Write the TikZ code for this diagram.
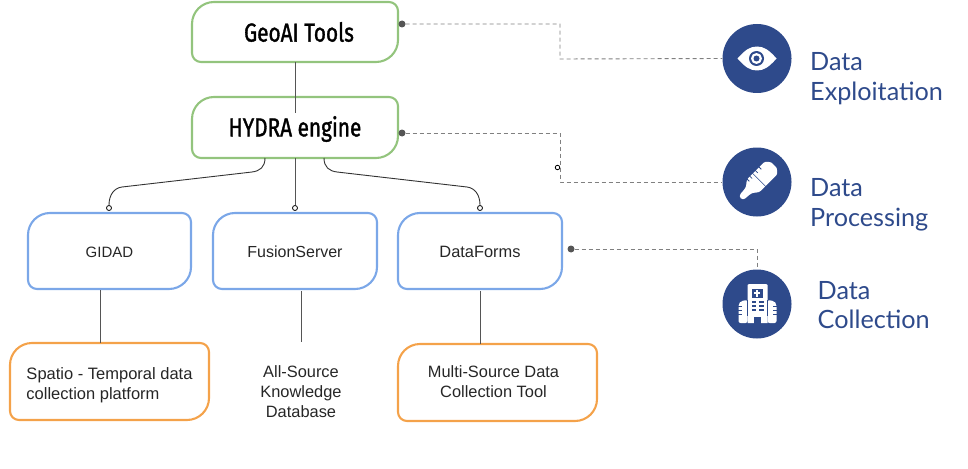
\documentclass[tikz,border=0pt]{standalone}
\usepackage{fontspec}
\setmainfont{Liberation Sans}
\newfontfamily\titlefont[FakeStretch=0.80,FakeBold=1.3]{Fira Sans}
\newfontfamily\sidefont{Lato}
\usetikzlibrary{calc}
\definecolor{navy}{HTML}{2E4A8B}
\definecolor{leafgreen}{HTML}{93C47D}
\definecolor{leafblue}{HTML}{7BA7E8}
\definecolor{leaforange}{HTML}{F4A24A}
\definecolor{linkgrey}{HTML}{555555}
\tikzset{
  x=1pt,y=-1pt,
  boxtext/.style={inner sep=0pt,align=center,font=\fontsize{16.4}{20}\selectfont,text=black!85},
  titletext/.style={inner sep=0pt,align=center,font=\titlefont\fontsize{26}{30}\selectfont,text=black},
  sidelabel/.style={inner sep=0pt,anchor=west,align=left,font=\sidefont\fontsize{25.2}{30}\selectfont,text=navy},
  link/.style={draw=linkgrey,line width=1pt},
  thinlink/.style={draw=black!80,line width=0.9pt},
  dashlink/.style={draw=linkgrey!75,line width=0.9pt,dash pattern=on 4pt off 3pt},
  opendot/.style={circle,draw=black,fill=white,line width=0.8pt,inner sep=0pt,minimum size=5pt},
  fulldot/.style={circle,fill=linkgrey,inner sep=0pt,minimum size=7pt},
  iconcircle/.style={circle,fill=navy,inner sep=0pt,minimum size=69pt},
}
% name, x1, y1, x2, y2, colour, text style, text
\newcommand{\leafbox}[8]{%
  \draw[#6,line width=2.1pt]
    (#2+22,#3) -- (#4-9,#3) arc[start angle=90,end angle=0,radius=9pt]
    -- (#4,#5-22) arc[start angle=0,end angle=-90,radius=22pt]
    -- (#2+9,#5) arc[start angle=-90,end angle=-180,radius=9pt]
    -- (#2,#3+22) arc[start angle=180,end angle=90,radius=22pt] -- cycle;
  \node[#7] (#1) at ({(#2+#4)/2},{(#3+#5)/2}) {#8};
}
\begin{document}
\begin{tikzpicture}
\useasboundingbox (0,0) rectangle (968,468);
\leafbox{geo}{192}{2}{398}{62}{leafgreen}{titletext,xshift=4pt}{GeoAI Tools}
\leafbox{hydra}{192}{97}{398}{158}{leafgreen}{titletext,yshift=-1.5pt}{HYDRA engine}
\leafbox{gidad}{28}{213}{191}{289}{leafblue}{boxtext,font=\fontsize{15}{20}\selectfont,yshift=-1pt}{GIDAD}
\leafbox{fusion}{213}{213}{377}{289}{leafblue}{boxtext,font=\fontsize{16}{20}\selectfont,yshift=-1pt}{FusionServer}
\leafbox{forms}{398}{213}{562}{289}{leafblue}{boxtext,yshift=-1pt}{DataForms}
\leafbox{spatio}{10}{343}{209}{420}{leaforange}{boxtext,align=left,font=\fontsize{16.5}{20}\selectfont,yshift=-3.5pt}{Spatio - Temporal data\\collection platform}
\leafbox{multi}{398}{344}{597}{421}{leaforange}{boxtext,xshift=-4pt,yshift=0.5pt}{Multi-Source Data\\Collection Tool}
\node[boxtext] (allsource) at (301,391.5) {All-Source\\Knowledge\\Database};

% solid connectors
\coordinate (geoEnd) at (295,113);
\draw[link] (295,62) -- (geoEnd);
\node[opendot] (dotF) at (295,208) {};
\node[opendot] (dotG) at (109,208) {};
\node[opendot] (dotD) at (480,208) {};
\coordinate (hydraL) at (265,158);
\coordinate (hydraM) at (295,158);
\coordinate (hydraR) at (324,158);
\draw[link] (hydraM) -- (dotF);
\draw[thinlink] (hydraL) .. controls (265,167) and (260,171) .. (252,172)
  -- (122,187) .. controls (114,188) and (109,195) .. (dotG.north);
\draw[thinlink] (hydraR) .. controls (324,167) and (329,171) .. (337,172)
  -- (467,187) .. controls (475,188) and (480,195) .. (dotD.north);
\coordinate (gidadS) at (100,290);
\coordinate (spatioN) at (100,343);
\coordinate (fusionS) at (301,291);
\coordinate (allsourceN) at (301,342);
\coordinate (formsS) at (480,291);
\coordinate (multiN) at (480,344);
\draw[link] (gidadS) -- (spatioN);
\draw[link] (fusionS) -- (allsourceN);
\draw[link] (formsS) -- (multiN);

% icon circles
\node[iconcircle] (eye) at (757,58.5) {};
\node[iconcircle] (thermo) at (757,182) {};
\node[iconcircle] (hospital) at (757,304) {};

% dashed connectors
\node[fulldot] (dot1) at (402,24) {};
\node[fulldot] (dot2) at (402,133) {};
\node[fulldot] (dot3) at (571,249) {};
\node[opendot,minimum size=4.5pt] (dot4) at (557.5,167.5) {};
\draw[dashlink] (dot1) -- (560,24) -- (560,59) -- (eye.west);
\draw[dashlink] (dot2) -- (560,133) -- (560,182) -- (thermo.west);
\draw[dashlink] (dot3) -- (757,249) -- (hospital.north);

% labels
\node[sidelabel] (l1) at (810,79) {Data\\Exploitation};
\node[sidelabel] (l2) at (810,204.5) {Data\\Processing};
\node[sidelabel,font=\sidefont\fontsize{25.2}{29}\selectfont] (l3) at (817.5,305) {Data\\Collection};

% eye icon
\fill[white] (737.5,58.5) .. controls (745,50) and (750,46.5) .. (757,46.5)
  .. controls (764,46.5) and (769,50) .. (776.5,58.5)
  .. controls (769,67) and (764,70.5) .. (757,70.5)
  .. controls (750,70.5) and (745,67) .. (737.5,58.5) -- cycle;
\fill[navy] (756.5,58.5) circle[radius=7.5pt];
\fill[white] (756.5,58.5) circle[radius=5.5pt];
\fill[navy] (756.5,58.5) circle[radius=3pt];

% thermometer icon
\begin{scope}[shift={(757,182)},rotate=45]
  \fill[white,rounded corners=3pt] (-23,-3) -- (-11,-4) -- (-6,-9) -- (15,-9) .. controls (21,-9) and (24,-4) .. (24,0)
     .. controls (24,4) and (21,9) .. (15,9) -- (-6,9) -- (-11,4) -- (-23,3) -- cycle;
  \draw[navy,line width=0.7pt] (3,-9.5) -- (3,9.5);
  \foreach \u in {-5,-1,7,12}
    \draw[navy,line width=0.8pt] (\u,-9.5) -- (\u,-6);
\end{scope}

% hospital icon
\fill[white] (747.5,285) -- (749,284) -- (766,284) -- (767.5,285) -- (767.5,323) -- (747.5,323) -- cycle;
\fill[white,rounded corners=2pt] (747.5,300) -- (741,301) -- (738.5,304) -- (738.5,323) -- (747.5,323) -- cycle;
\fill[white,rounded corners=2pt] (767.5,300) -- (774,301) -- (776.5,304) -- (776.5,323) -- (767.5,323) -- cycle;
% gaps between tower and wings
\draw[navy,line width=0.8pt] (747.5,300) -- (747.5,316);
\draw[navy,line width=0.8pt] (767.5,300) -- (767.5,316);
% wing stripes
\foreach \y in {306,310,314} {
  \draw[navy,line width=1pt] (738,\y) -- (742,\y);
  \draw[navy,line width=1pt] (773,\y) -- (777,\y);
}
% window with cross
\fill[navy] (751.5,289) rectangle (763,297.5);
\fill[white] (756.2,290) rectangle (758.2,296.5);
\fill[white] (754,292.2) rectangle (760.4,294.3);
% tower windows
\foreach \y in {301,305,309} {
  \fill[navy] (751.5,\y) rectangle (756,\y+2);
  \fill[navy] (759,\y) rectangle (763.5,\y+2);
}
% door
\fill[navy] (754,316.5) rectangle (761,323.5);
\end{tikzpicture}
\end{document}
